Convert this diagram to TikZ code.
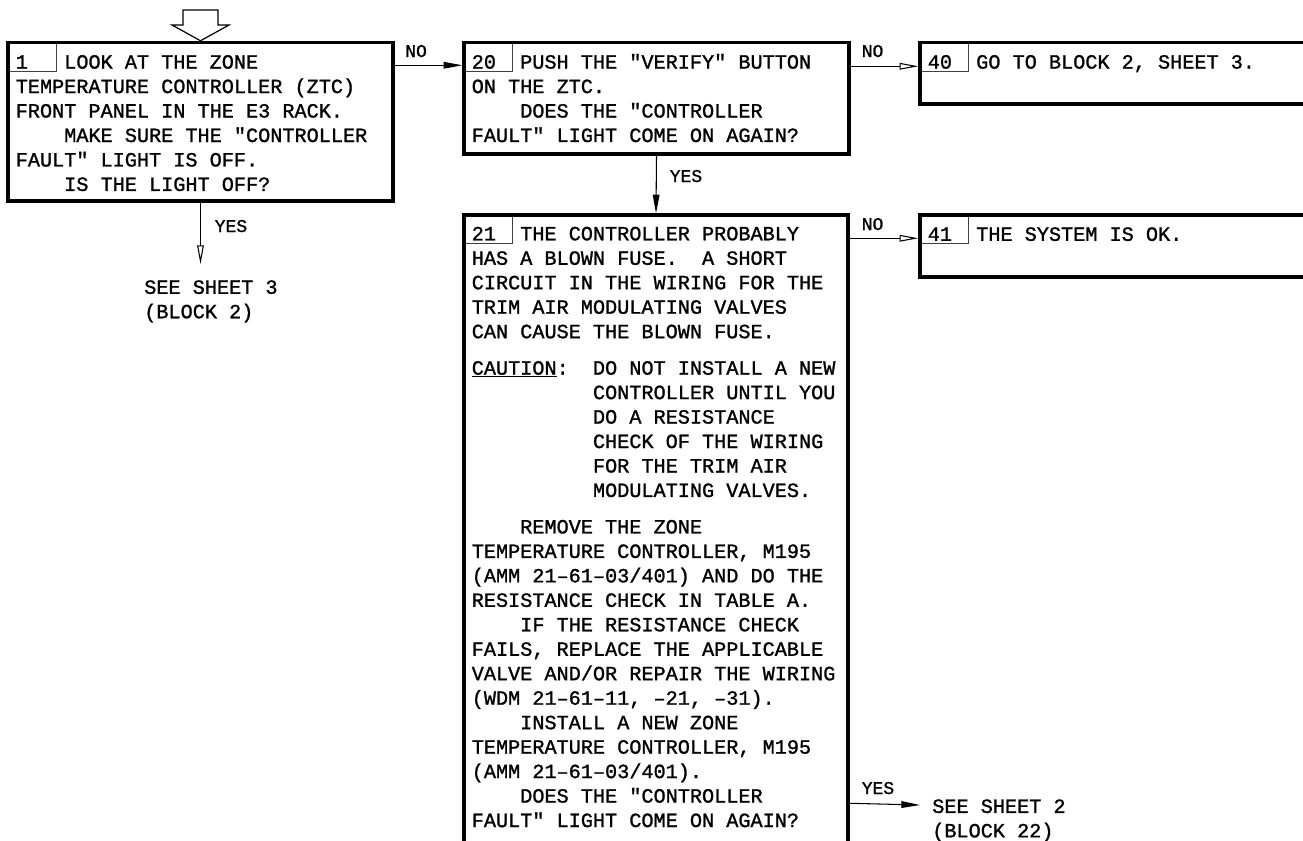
\documentclass[tikz,border=0pt]{standalone}
\usepackage{fontspec}
\newfontfamily\mono[FakeBold=1.2]{Liberation Mono}
\usetikzlibrary{arrows.meta,calc,fit}
\newcommand\myind{\phantom{XXXX}}
\newcommand\cind{\phantom{XXXXXXXXXX}}
\frenchspacing
\begin{document}
\begin{tikzpicture}[x=0.75pt,y=-0.75pt,
 blk/.style={draw=black,line width=2.6pt,inner sep=0pt},
 numbox/.style={draw=black!75,line width=0.7pt,inner sep=0pt},
 txt/.style={anchor=north west,inner sep=0pt,align=left,font=\mono\fontsize{15.15pt}{18.35pt}\selectfont},
 lbl/.style={anchor=base west,inner sep=0pt,font=\mono\fontsize{13.5pt}{16pt}\selectfont},
 conn/.style={line width=0.8pt},
 arrf/.style={conn,-{Triangle[length=14pt,width=5pt]}},
 arro/.style={conn,-{Triangle[open,length=14pt,width=5pt]}},
]
\useasboundingbox (0,0) rectangle (1303,840);
\clip (0,0) rectangle (1303,840);

% number boxes
\node[numbox,fit={(8,42.5) (56,71.7)}] (n1) {};
\node[numbox,fit={(464,42.5) (512,71.7)}] (n20) {};
\node[numbox,fit={(920,42.5) (968,71.7)}] (n40) {};
\node[numbox,fit={(464,215) (512,243.5)}] (n21) {};
\node[numbox,fit={(920,215) (968,243.5)}] (n41) {};

% boxes
\node[blk,fit={(8,42.5) (393,201)}] (b1) {};
\node[blk,fit={(464,42.5) (849,154)}] (b20) {};
\node[blk,fit={(920,42.5) (1312,104)}] (b40) {};
\node[blk,fit={(464,215) (848,870)}] (b21) {};
\node[blk,fit={(920,215) (1312,277)}] (b41) {};

% entry arrow
\draw[line width=0.9pt,fill=white] (183,10) -- (218,10) -- (218,25) -- (229,25) -- (b1.north) -- (172,25) -- (183,25) -- cycle;

% texts
\node[txt] (t1) at (15.5,51.2) {\strut 1\ \ \ LOOK AT THE ZONE\\TEMPERATURE CONTROLLER (ZTC)\\FRONT PANEL IN THE E3 RACK.\\\myind MAKE SURE THE "CONTROLLER\\FAULT" LIGHT IS OFF.\\\myind IS THE LIGHT OFF?};

\node[txt] (t20) at (471.5,51.2) {\strut 20\ \ PUSH THE "VERIFY" BUTTON\\ON THE ZTC.\\\myind DOES THE "CONTROLLER\\FAULT" LIGHT COME ON AGAIN?};

\node[txt] (t40) at (927.5,51.2) {\strut 40\ \ GO TO BLOCK 2, SHEET 3.};
\node[txt] (t41) at (927.5,223.4) {\strut 41\ \ THE SYSTEM IS OK.};

\node[txt] (t21) at (471.5,222.9) {\strut 21\ \ THE CONTROLLER PROBABLY\\HAS A BLOWN FUSE.\ \ A SHORT\\CIRCUIT IN THE WIRING FOR THE\\TRIM AIR MODULATING VALVES\\CAN CAUSE THE BLOWN FUSE.\\[9pt]
\underline{CAUTION}:\ \ DO NOT INSTALL A NEW\\\cind CONTROLLER UNTIL YOU\\\cind DO A RESISTANCE\\\cind CHECK OF THE WIRING\\\cind FOR THE TRIM AIR\\\cind MODULATING VALVES.\\[9pt]
\myind REMOVE THE ZONE\\TEMPERATURE CONTROLLER, M195\\(AMM 21–61–03/401) AND DO THE\\RESISTANCE CHECK IN TABLE A.\\\myind IF THE RESISTANCE CHECK\\FAILS, REPLACE THE APPLICABLE\\VALVE AND/OR REPAIR THE WIRING\\(WDM 21–61–11, –21, –31).\\\myind INSTALL A NEW ZONE\\TEMPERATURE CONTROLLER, M195\\(AMM 21–61–03/401).\\\myind DOES THE "CONTROLLER\\FAULT" LIGHT COME ON AGAIN?};

% end texts
\node[txt] (s3) at (144,276.4) {\strut SEE SHEET 3\\(BLOCK 2)};
\node[txt] (s2) at (932,795.5) {\strut SEE SHEET 2\\(BLOCK 22)};
\coordinate (e1) at (200.5,264);
\coordinate (e2) at (920,805);

% connectors
\draw[arrf] ($(b1.north east)+(0,24.5)$) -- ($(b20.north west)+(0,24.5)$);
\draw[arro] ($(b20.north east)+(0,25.5)$) -- ($(b40.north west)+(0,25.5)$);
\draw[arrf] (b20.south) -- (b21.north);
\draw[arro] ($(b21.north east)+(0,25)$) -- ($(b41.north west)+(0,25)$);
\draw[arro] (b1.south) -- (e1);
\draw[arrf] ($(b21.north east)+(0,590)$) -- (e2);

% labels
\node[lbl] (l1) at (405,57) {NO};
\node[lbl] (l2) at (861.5,57) {NO};
\node[lbl] (l3) at (669.5,182) {YES};
\node[lbl] (l4) at (861.5,230) {NO};
\node[lbl] (l5) at (214.5,232) {YES};
\node[lbl] (l6) at (861.5,794) {YES};
\end{tikzpicture}
\end{document}
